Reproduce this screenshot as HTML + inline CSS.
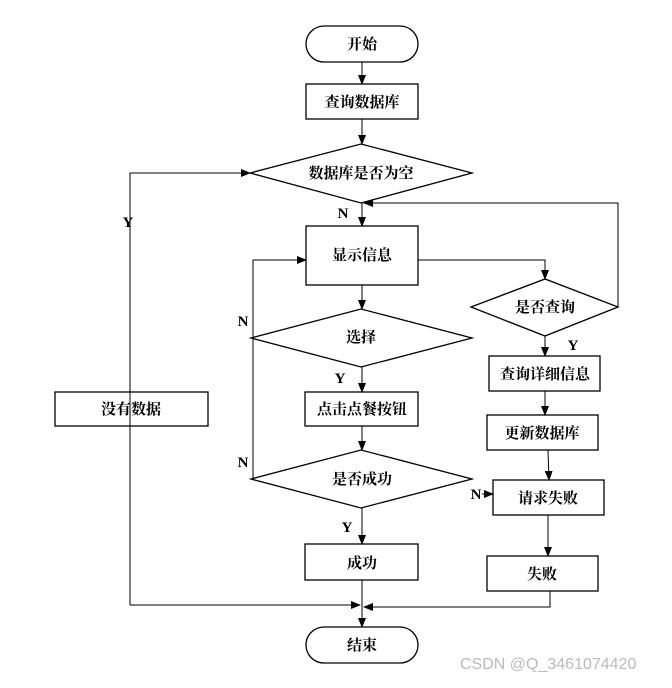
<!DOCTYPE html>
<html><head><meta charset="utf-8"><style>
body{margin:0;background:#fff;}
svg text{font-family:"Liberation Serif","Noto Serif CJK SC",serif;font-weight:bold;font-size:15px;fill:#000;}
</style></head><body>
<svg width="672" height="683" viewBox="0 0 672 683" xmlns="http://www.w3.org/2000/svg">
<defs><marker id="a" markerWidth="10" markerHeight="8" refX="9" refY="4" orient="auto" markerUnits="userSpaceOnUse"><path d="M0,0 L10,4 L0,8 z" fill="#000"/></marker></defs>
<g fill="none" stroke="#000" stroke-width="1.3">
<rect x="306" y="26" width="112" height="36" rx="18"/>
<rect x="306" y="84" width="112" height="35"/>
<polygon points="250,173 361,144 472,173 361,203"/>
<rect x="306" y="226" width="112" height="59"/>
<polygon points="471,307 545,279 618,307 545,336"/>
<polygon points="251,338 361,309 472,338 361,367"/>
<rect x="489" y="356" width="111" height="35"/>
<rect x="487" y="415" width="111" height="35"/>
<rect x="305" y="392" width="113" height="34"/>
<polygon points="251,479 361,450 472,479 361,508"/>
<rect x="493" y="480" width="111" height="35"/>
<rect x="487" y="556" width="111" height="35"/>
<rect x="305" y="544" width="113" height="36"/>
<rect x="306" y="627" width="112" height="36" rx="18"/>
<rect x="55" y="392" width="153" height="34"/>
</g>
<g fill="none" stroke="#000" stroke-width="1" marker-end="url(#a)">
<line x1="362" y1="62" x2="362" y2="84"/>
<line x1="362" y1="119" x2="362" y2="144"/>
<line x1="362" y1="203" x2="362" y2="226"/>
<line x1="362" y1="285" x2="362" y2="309"/>
<line x1="362" y1="367" x2="362" y2="392"/>
<line x1="362" y1="426" x2="362" y2="450"/>
<line x1="362" y1="508" x2="362" y2="544"/>
<line x1="362" y1="580" x2="362" y2="627"/>
<polyline points="130,605 130,173 250,173"/>
<polyline points="130,605 360,605"/>
<polyline points="550,591 550,607 364,607"/>
<polyline points="618,307 618,203 364,203"/>
<polyline points="418,260 545,260 545,279"/>
<polyline points="251,479 253,479 253,260 306,260"/>
<line x1="545" y1="336" x2="545" y2="356"/>
<line x1="545" y1="391" x2="545" y2="415"/>
<line x1="548" y1="450" x2="549" y2="480"/>
<line x1="548" y1="515" x2="548" y2="556"/>
<line x1="482" y1="494" x2="493" y2="494"/>
</g>
<line x1="253" y1="338" x2="251" y2="338" stroke="#000"/>
<g text-anchor="middle">
<text x="362" y="49">开始</text>
<text x="362" y="107">查询数据库</text>
<text x="361" y="178">数据库是否为空</text>
<text x="362" y="260">显示信息</text>
<text x="545" y="312">是否查询</text>
<text x="361" y="342">选择</text>
<text x="545" y="379">查询详细信息</text>
<text x="542" y="438">更新数据库</text>
<text x="362" y="414">点击点餐按钮</text>
<text x="362" y="484">是否成功</text>
<text x="548" y="503">请求失败</text>
<text x="542" y="579">失败</text>
<text x="362" y="568">成功</text>
<text x="362" y="650">结束</text>
<text x="131" y="414">没有数据</text>
<text x="343" y="218">N</text>
<text x="128" y="227">Y</text>
<text x="243" y="326">N</text>
<text x="243" y="467">N</text>
<text x="340" y="383">Y</text>
<text x="347" y="532">Y</text>
<text x="573" y="350">Y</text>
<text x="476" y="499">N</text>
</g>
<text x="460" y="669" style="font-family:'Liberation Sans',sans-serif;font-weight:normal;font-size:16px;fill:#bbb">CSDN @Q_3461074420</text>
</svg>
</body></html>
